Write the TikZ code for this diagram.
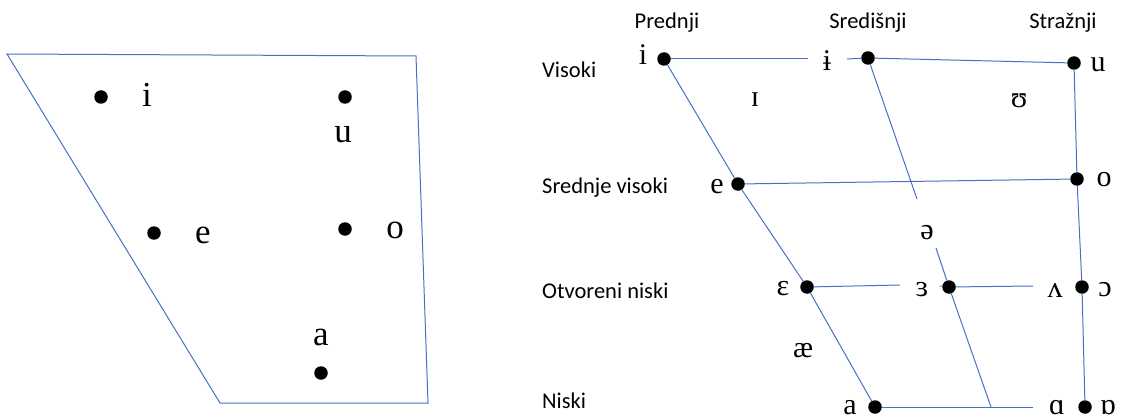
\documentclass[tikz,border=0pt]{standalone}
\usepackage{fontspec}
\setmainfont{Liberation Serif}
\newfontfamily\labfont{Carlito}
\usepackage{tikz}
\definecolor{chartblue}{RGB}{68,114,196}
\tikzset{x=1pt,y=-1pt,
    dot/.style={circle,fill=black,inner sep=0pt,minimum size=13.5pt},
    ipa/.style={inner sep=0pt,font=\fontsize{30}{30}\selectfont},
    bigipa/.style={inner sep=0pt,font=\fontsize{35}{35}\selectfont},
    lab/.style={inner sep=0pt,font=\labfont\fontsize{22.5}{22.5}\selectfont},
    side/.style={lab,anchor=west},
    chart/.style={draw=chartblue,line width=1pt}}

\begin{document}
\begin{tikzpicture}[]
            \useasboundingbox (0,0) rectangle (1121,417);
            \draw[chart] (7,54) -- (416,56) -- (428,403) -- (220,403) -- cycle;
            \node[dot] (li) at (101,97) {};
            \node[dot] (lu) at (345,97) {};
            \node[dot] (le) at (154,233) {};
            \node[dot] (lo) at (345,229) {};
            \node[dot] (la) at (321,373) {};
            \node[bigipa] (lit) at (147,94.5) {i};
            \node[bigipa] (lut) at (343,135) {u};
            \node[bigipa] (let) at (203,235) {e};
            \node[bigipa] (lot) at (395,230) {o};
            \node[bigipa] (lat) at (321,337) {a};

            \node[lab] (front) at (667,23) {Prednji};
            \node[lab] (central) at (868,23) {Središnji};
            \node[lab] (back) at (1063,23) {Stražnji};
            \node[side] (high) at (542,69.5) {Visoki};
            \node[side] (midhigh) at (542,188) {Srednje visoki};
            \node[side] (openlow) at (542,291) {Otvoreni niski};
            \node[side] (low) at (542,401) {Niski};

            \node[dot] (fi) at (664,59) {};
            \node[dot] (ci) at (868,58) {};
            \node[dot] (bu) at (1074,63) {};
            \node[dot] (fe) at (738,184) {};
            \node[dot] (bo) at (1077,179) {};
            \node[dot] (feps) at (807,287) {};
            \node[dot] (crev) at (949,287) {};
            \node[dot] (bopen) at (1082,287) {};
            \node[dot] (fa) at (875,407) {};
            \node[dot] (bturn) at (1085,407) {};

            \node[ipa] (fit) at (643,55) {i};
            \node[ipa] (cit) at (827,61) {ɨ};
            \node[ipa] (but) at (1098,65) {u};
            \node[ipa] (nfit) at (755,100) {ɪ};
            \node[ipa] (nbut) at (1019,101) {ʊ};
            \node[ipa] (fet) at (717,187) {e};
            \node[ipa] (bot) at (1104,180) {o};
            \node[ipa] (fepst) at (783,289) {ɛ};
            \node[ipa] (faet) at (803,351) {æ};
            \node[ipa] (schwa) at (927,233) {ə};
            \node[ipa] (crevt) at (922,290) {ɜ};
            \node[ipa] (bwedge) at (1055,290) {ʌ};
            \node[ipa] (bopent) at (1105,290) {ɔ};
            \node[ipa] (fat) at (850,408) {a};
            \node[ipa] (bat) at (1057,408) {ɑ};
            \node[ipa] (bturnt) at (1108,408) {ɒ};

            \coordinate (g1) at (808,59);
            \coordinate (g2) at (847,59);
            \coordinate (g3) at (900,285);
            \coordinate (g4) at (940,286);
            \coordinate (g5) at (1033,286);
            \coordinate (g6) at (1033,407);
            \coordinate (c1) at (917,199);
            \coordinate (c2) at (936,248);
            \coordinate (c3) at (991,407);

            \draw[chart] (fi) -- (g1);
            \draw[chart] (g2) -- (ci) -- (bu);
            \draw[chart] (fe) -- (bo);
            \draw[chart] (feps) -- (g3);
            \draw[chart] (g4) -- (crev) -- (g5);
            \draw[chart] (fa) -- (g6);
            \draw[chart] (fi) -- (fe) -- (feps) -- (fa);
            \draw[chart] (bu) -- (bo) -- (bopen) -- (bturn);
            \draw[chart] (ci) -- (c1);
            \draw[chart] (c2) -- (crev) -- (c3);
        \end{tikzpicture}
\end{document}
